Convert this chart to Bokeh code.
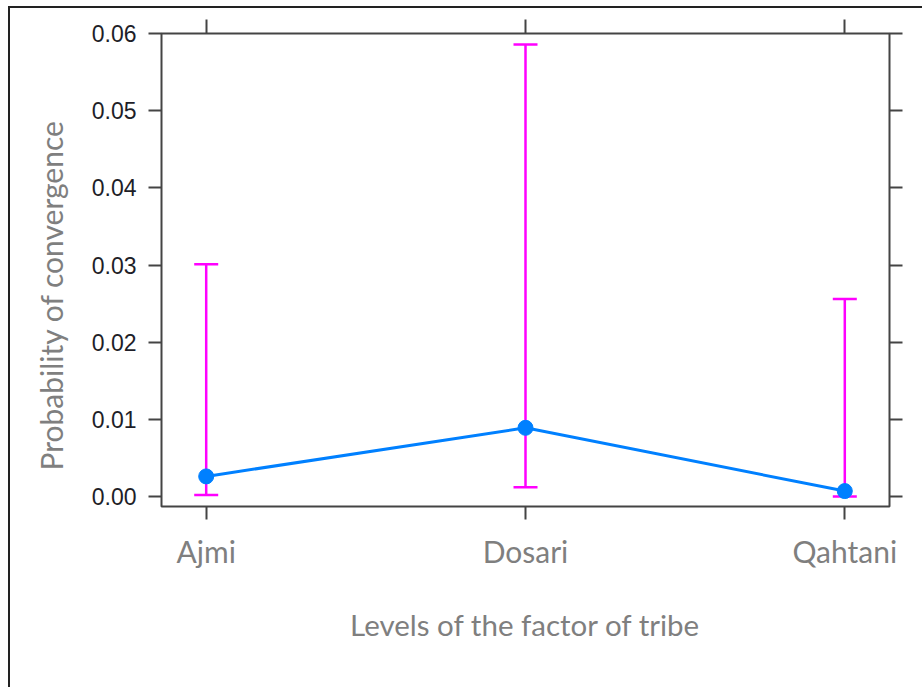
from bokeh.plotting import figure
from bokeh.models import (ColumnDataSource, Whisker, TeeHead, FixedTicker,
                          LinearAxis, PrintfTickFormatter, Range1d, Title)
from bokeh.embed import file_html
from bokeh.resources import INLINE

# Estimated probability of convergence by tribe, with confidence limits
tribes = ["Ajmi", "Dosari", "Qahtani"]
positions = [1, 2, 3]
prob_fit = [0.0026, 0.0089, 0.0007]
prob_lower = [0.0002, 0.0012, 0.0000]
prob_upper = [0.0301, 0.0586, 0.0256]
y_ticks = [0.00, 0.01, 0.02, 0.03, 0.04, 0.05, 0.06]

src = ColumnDataSource(dict(x=positions, fit=prob_fit,
                            lower=prob_lower, upper=prob_upper))

FRAME = "#444444"
GRAY_TEXT = "#7f7f7f"
MAGENTA = "#ff00ff"
BLUE = "#0080ff"

p = figure(width=914, height=681,
           x_range=Range1d(0.86, 3.14), y_range=Range1d(-0.0013, 0.06002),
           output_backend="svg", toolbar_location=None,
           min_border_left=151, min_border_right=35,
           min_border_top=25, min_border_bottom=183,
           x_axis_label="Levels of the factor of tribe")
p.margin = (6, 0, 0, 8)
p.styles = {"border-left": "2px solid #222222", "border-top": "2px solid #222222"}

p.background_fill_color = "white"
p.border_fill_color = "white"
p.xgrid.visible = False
p.ygrid.visible = False
p.outline_line_color = FRAME
p.outline_line_width = 2

# bottom axis: tribe names
xa = p.xaxis[0]
xa.ticker = FixedTicker(ticks=positions)
xa.major_label_overrides = {k: v for k, v in zip(positions, tribes)}
xa.minor_tick_line_color = None
xa.axis_line_color = None
xa.major_tick_line_color = FRAME
xa.major_tick_line_width = 2
xa.major_tick_out = 13
xa.major_tick_in = 0
xa.major_label_standoff = 13
xa.major_label_text_font = "Lato"
xa.major_label_text_font_size = "30px"
xa.major_label_text_color = GRAY_TEXT
xa.axis_label_text_font = "Lato"
xa.axis_label_text_font_size = "29.5px"
xa.axis_label_text_font_style = "normal"
xa.axis_label_text_color = GRAY_TEXT
xa.axis_label_standoff = 35

# left axis: probabilities
ya = p.yaxis[0]
ya.ticker = FixedTicker(ticks=y_ticks)
ya.formatter = PrintfTickFormatter(format="%.2f")
ya.minor_tick_line_color = None
ya.axis_line_color = None
ya.major_tick_line_color = FRAME
ya.major_tick_line_width = 2
ya.major_tick_out = 13
ya.major_tick_in = 0
ya.major_label_standoff = 12
ya.major_label_text_font = "Liberation Sans"
ya.major_label_text_font_size = "23px"
ya.major_label_text_color = "#1e1e28"

# tick marks repeated on the top and right sides, without labels
top = LinearAxis(ticker=FixedTicker(ticks=positions), axis_line_color=None,
                 major_tick_line_color=FRAME, major_tick_line_width=2,
                 major_tick_out=14, major_tick_in=0, minor_tick_line_color=None,
                 major_label_text_font_size="0px", major_label_text_color=None,
                 major_label_standoff=0)
right = LinearAxis(ticker=FixedTicker(ticks=y_ticks), axis_line_color=None,
                   major_tick_line_color=FRAME, major_tick_line_width=2,
                   major_tick_out=13, major_tick_in=0, minor_tick_line_color=None,
                   major_label_text_font_size="0px", major_label_text_color=None,
                   major_label_standoff=0)
p.add_layout(top, "above")
p.add_layout(right, "right")

# vertical axis title, starting a little above the frame's bottom edge
p.add_layout(Title(text="Probability of convergence", align="left",
                   offset=36, standoff=39, text_font="Lato",
                   text_font_size="30px", text_font_style="normal",
                   text_color=GRAY_TEXT), "left")

# confidence intervals
head = dict(size=24, line_color=MAGENTA, line_width=2.5)
p.add_layout(Whisker(base="x", lower="lower", upper="upper", source=src,
                     line_color=MAGENTA, line_width=2.5,
                     upper_head=TeeHead(**head), lower_head=TeeHead(**head)))

# fitted probabilities
p.line("x", "fit", source=src, line_color=BLUE, line_width=3)
p.scatter("x", "fit", source=src, size=15, fill_color=BLUE, line_color=BLUE)

open("out.html", "w").write(file_html(p, INLINE))
